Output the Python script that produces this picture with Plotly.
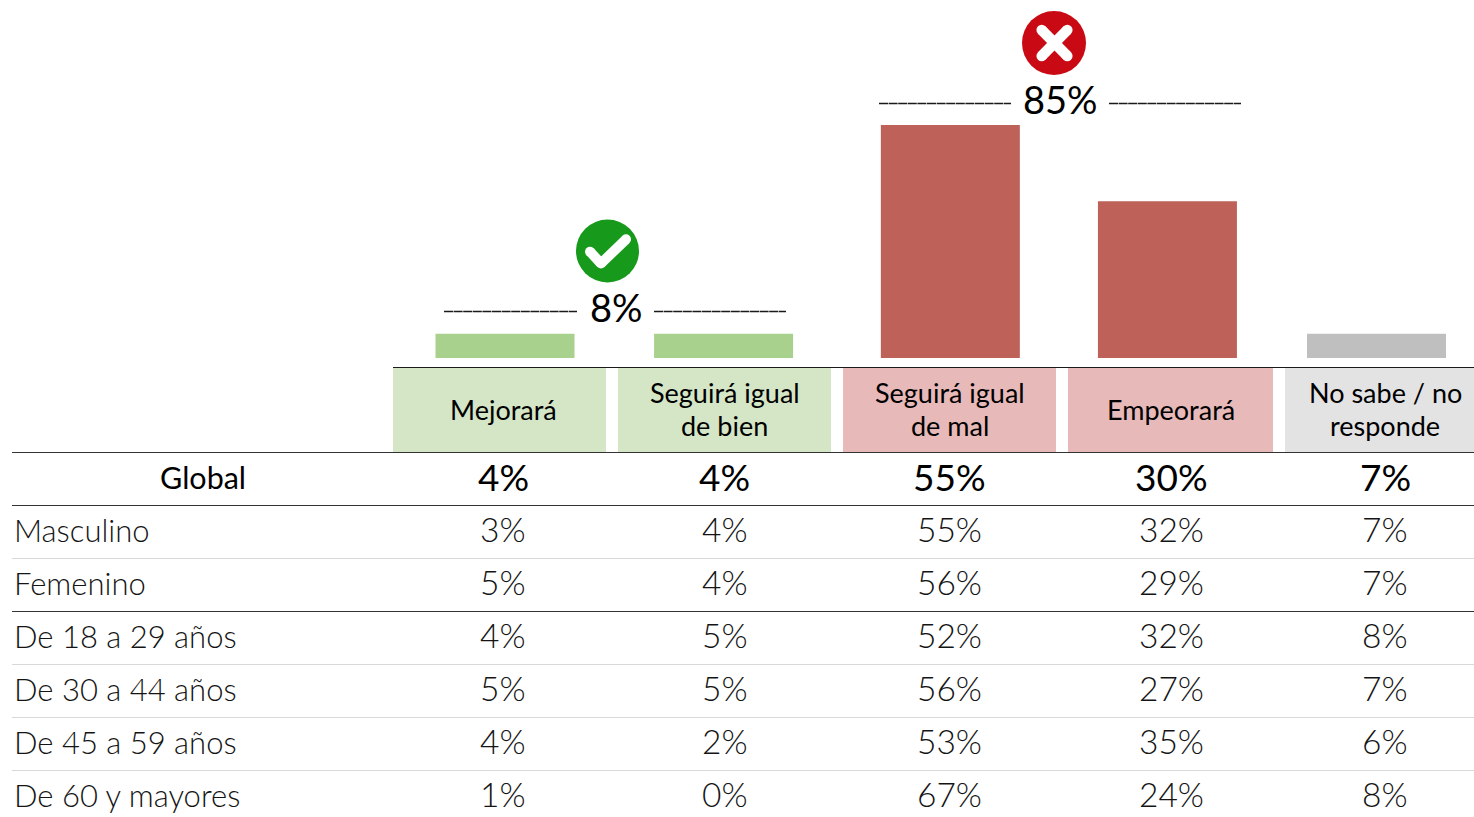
import plotly.graph_objects as go

W, H = 1474, 817

# ---- data ----
categories = ["Mejorará", "Seguirá igual de bien", "Seguirá igual de mal", "Empeorará", "No sabe / no responde"]
header_labels = [["Mejorará"], ["Seguirá igual", "de bien"], ["Seguirá igual", "de mal"], ["Empeorará"], ["No sabe / no", "responde"]]
# bar lengths as drawn in the picture (not proportional to the printed %)
bar_values = [5.7, 5.7, 55, 37, 5.7]
row_labels = ["Global", "Masculino", "Femenino", "De 18 a 29 años", "De 30 a 44 años", "De 45 a 59 años", "De 60 y mayores"]
global_row = [4, 4, 55, 30, 7]
masculino = [3, 4, 55, 32, 7]
femenino = [5, 4, 56, 29, 7]
de_18_29 = [4, 5, 52, 32, 8]
de_30_44 = [5, 5, 56, 27, 7]
de_45_59 = [4, 2, 53, 35, 6]
de_60_mas = [1, 0, 67, 24, 8]
rows = [global_row, masculino, femenino, de_18_29, de_30_44, de_45_59, de_60_mas]
good_total = "8%"
bad_total = "85%"

# ---- styles / layout ----
FONT = "Lato"
INK = "#000000"
SOFT = "#141414"
bar_colors = ["#A9D18E", "#A9D18E", "#BD6159", "#BD6159", "#BFBFBF"]
cell_colors = ["#D4E6C6", "#D4E6C6", "#E8B9B9", "#E8B9B9", "#E3E3E3"]
cell_x = [(393, 606), (618, 831), (843, 1056), (1068, 1273), (1285, 1474)]
col_centers = [503, 724.5, 950, 1171, 1385]
row_y = [477, 529, 582, 635, 688, 741, 794]
STEP = 217.875
FIRST = 505
BASE = 358
PX_PER_UNIT = 233 / 55
bar_nudge_px = [0, 0.7, 9.6, 8.8, 0]
BAR_W = 139

fx = lambda p: p / W
fy = lambda p: 1 - p / H

fig = go.Figure()
fig.add_trace(go.Bar(
    x=categories, y=bar_values,
    marker=dict(color=bar_colors, line=dict(width=0)),
    width=[BAR_W / STEP] * 5,
    offset=[(n - BAR_W / 2) / STEP for n in bar_nudge_px],
    hoverinfo="skip", showlegend=False,
))

shapes, ann = [], []


def rect(x0, y0, x1, y1, c):
    shapes.append(dict(type="rect", xref="paper", yref="paper", x0=fx(x0), x1=fx(x1), y0=fy(y0), y1=fy(y1),
                       fillcolor=c, line=dict(width=0), layer="below"))


def line(x0, y0, x1, y1, c, w, dash=None):
    shapes.append(dict(type="line", xref="paper", yref="paper", x0=fx(x0), x1=fx(x1), y0=fy(y0), y1=fy(y1),
                       line=dict(color=c, width=w, dash=dash or "solid")))


def disc(cx, cy, r, c):
    shapes.append(dict(type="circle", xref="paper", yref="paper", x0=fx(cx - r), x1=fx(cx + r), y0=fy(cy - r), y1=fy(cy + r),
                       fillcolor=c, line=dict(width=0)))


def text(t, x, y, size, color=INK, anchor="center", weight=400):
    ann.append(dict(text=t, xref="paper", yref="paper", x=fx(x), y=fy(y), xanchor=anchor, yanchor="middle",
                    showarrow=False, align="center", font=dict(family=FONT, size=size, color=color, weight=weight)))


for (a, b), c in zip(cell_x, cell_colors):
    rect(a, 368, b, 452, c)

line(393, 367.5, W, 367.5, "#1a1a1a", 1.2)
line(12, 452.5, W, 452.5, "#333333", 1.2)
line(12, 505.5, W, 505.5, "#333333", 1.2)
line(12, 558.5, W, 558.5, "#d9d9d9", 1.2)
line(12, 611.5, W, 611.5, "#333333", 1.2)
line(12, 664.5, W, 664.5, "#d9d9d9", 1.2)
line(12, 717.5, W, 717.5, "#d9d9d9", 1.2)
line(12, 770.5, W, 770.5, "#d9d9d9", 1.2)

# bracket rules beside the totals
for a, b, y in [(444, 577, 311.5), (654, 786, 311.5), (879, 1011, 103.5), (1109, 1241, 103.5)]:
    line(a, y, b, y, "#1a1a1a", 1.5, "9px,0.6px")

# icons
disc(607.5, 251, 31.5, "#179A1B")
for (x0, y0, x1, y1) in [(590, 251.7, 601, 263.5), (601, 263.5, 626, 239.3)]:
    line(x0, y0, x1, y1, "#FFFFFF", 10)
for (x, y) in [(590, 251.7), (601, 263.5), (626, 239.3)]:
    disc(x, y, 5, "#FFFFFF")

disc(1054, 43, 32, "#C90A14")
for (x0, y0, x1, y1) in [(1041.7, 30, 1067.3, 56), (1067.3, 30, 1041.7, 56)]:
    line(x0, y0, x1, y1, "#FFFFFF", 10.5)
for (x, y) in [(1041.7, 30), (1067.3, 56), (1067.3, 30), (1041.7, 56)]:
    disc(x, y, 5.25, "#FFFFFF")

# texts
text(good_total, 616, 307, 38)
text(bad_total, 1060.5, 99, 38)
for lines, x in zip(header_labels, col_centers):
    if len(lines) == 1:
        text(lines[0], x, 409, 27)
    else:
        text(lines[0], x, 392, 27)
        text(lines[1], x, 425, 27)
for i, (lab, vals, y) in enumerate(zip(row_labels, rows, row_y)):
    if i == 0:
        text(lab, 203, y, 30.5)
    else:
        text(lab, 11.5, y + 0.7, 31, SOFT, "left", 300)
    for v, x in zip(vals, col_centers):
        text(f"{v}%", x, y - 0.5, 37 if i == 0 else 33.5, INK if i == 0 else SOFT, "center", 400 if i == 0 else 300)

fig.update_layout(
    width=W, height=H, margin=dict(l=0, r=0, t=0, b=0),
    paper_bgcolor="white", plot_bgcolor="rgba(0,0,0,0)",
    showlegend=False, hovermode=False,
    shapes=shapes, annotations=ann,
    xaxis=dict(type="category", categoryorder="array", categoryarray=categories,
               range=[-FIRST / STEP, (W - FIRST) / STEP], domain=[0, 1],
               visible=False, fixedrange=True),
    yaxis=dict(range=[0, BASE / PX_PER_UNIT], domain=[1 - BASE / H, 1],
               visible=False, fixedrange=True),
)

fig.write_html("out.html", config=dict(displayModeBar=False),
               post_script="document.body.style.margin='0';document.body.style.overflow='hidden';")
